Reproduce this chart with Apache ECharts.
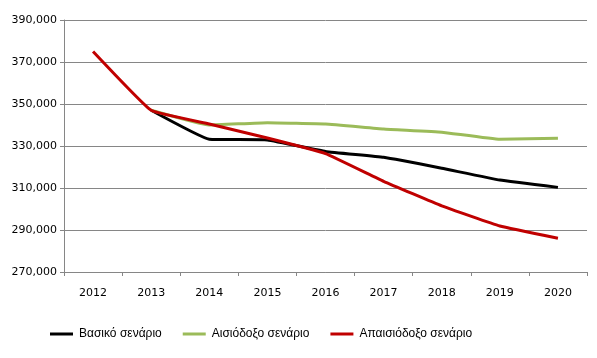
<!DOCTYPE html>
<html><head><meta charset="utf-8">
<script src="https://cdn.jsdelivr.net/npm/echarts@6/dist/echarts.min.js"></script>
<style>html,body{margin:0;padding:0;background:#fff}#c{width:597px;height:358px}</style>
</head><body><div id="c"></div>
<script>
const years = ['2012','2013','2014','2015','2016','2017','2018','2019','2020'];
const basic = [null, 347000, 333200, 332900, 327400, 324600, 319400, 313800, 310300];
const optimistic = [null, 347000, 340000, 341100, 340500, 338100, 336600, 333200, 333700];
const pessimistic = [375000, 347000, 340500, 333800, 326400, 313200, 301500, 291900, 286100];
const names = ['Βασικό σενάριο', 'Αισιόδοξο σενάριο', 'Απαισιόδοξο σενάριο'];

const axisColor = '#868686';
const chart = echarts.init(document.getElementById('c'));
chart.setOption({
  animation: false,
  grid: {left: 64, right: 10, top: 20, bottom: 86},
  legend: {
    bottom: 13, left: 45,
    icon: 'rect', itemWidth: 23, itemHeight: 3, itemGap: 21,
    textStyle: {fontFamily: 'Liberation Sans, sans-serif', fontSize: 12, color: '#000', padding: [0,0,0,1]},
    data: names
  },
  xAxis: {
    type: 'category', data: years, boundaryGap: true,
    axisLine: {lineStyle: {color: axisColor}},
    axisTick: {show: true, length: 4, lineStyle: {color: axisColor}},
    axisLabel: {color: '#000', fontFamily: 'DejaVu Sans', fontSize: 11, margin: 16}
  },
  yAxis: {
    type: 'value', min: 270000, max: 390000, interval: 20000,
    axisLine: {show: true, lineStyle: {color: axisColor}},
    axisTick: {show: true, length: 4, lineStyle: {color: axisColor}},
    splitLine: {lineStyle: {color: axisColor}},
    axisLabel: {color: '#000', fontFamily: 'DejaVu Sans', fontSize: 11, margin: 7,
      formatter: v => v.toLocaleString('en-US')}
  },
  series: [
    {name: names[0], type: 'line', data: basic, showSymbol: false, smooth: 0.1, lineStyle: {color: '#000000', width: 3}, itemStyle: {color: '#000000'}},
    {name: names[1], type: 'line', data: optimistic, showSymbol: false, smooth: 0.1, lineStyle: {color: '#9BBB59', width: 3}, itemStyle: {color: '#9BBB59'}},
    {name: names[2], type: 'line', data: pessimistic, showSymbol: false, smooth: 0.1, lineStyle: {color: '#C00000', width: 3}, itemStyle: {color: '#C00000'}}
  ]
});
</script></body></html>
